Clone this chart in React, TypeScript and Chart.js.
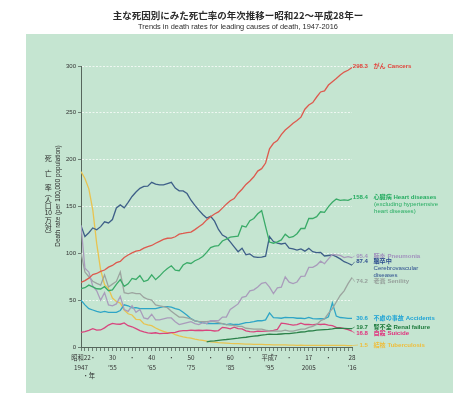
import React, { useEffect, useRef } from 'react';
import { Chart, registerables } from 'chart.js';

Chart.register(...registerables);

// ---------- DATA ----------
const years = [
  1947, 1948, 1949, 1950, 1951, 1952, 1953, 1954, 1955, 1956,
  1957, 1958, 1959, 1960, 1961, 1962, 1963, 1964, 1965, 1966,
  1967, 1968, 1969, 1970, 1971, 1972, 1973, 1974, 1975, 1976,
  1977, 1978, 1979, 1980, 1981, 1982, 1983, 1984, 1985, 1986,
  1987, 1988, 1989, 1990, 1991, 1992, 1993, 1994, 1995, 1996,
  1997, 1998, 1999, 2000, 2001, 2002, 2003, 2004, 2005, 2006,
  2007, 2008, 2009, 2010, 2011, 2012, 2013, 2014, 2015, 2016,
];

const cancers = [
  69.0, 70.9, 73.5, 77.4, 78.5, 80.8, 82.2, 85.3, 87.1, 90.0,
  91.3, 95.5, 98.2, 100.4, 102.3, 103.2, 105.5, 107.2, 108.4, 110.8,
  112.7, 114.9, 116.1, 116.3, 117.7, 120.4, 121.2, 122.2, 122.6, 125.3,
  128.4, 131.3, 135.7, 139.1, 142.0, 144.2, 148.3, 152.5, 156.1, 158.5,
  164.2, 168.4, 173.6, 177.2, 181.7, 187.8, 190.4, 196.4, 211.6, 217.5,
  220.4, 226.7, 231.6, 235.2, 238.8, 241.7, 245.4, 253.9, 258.3, 261.0,
  266.9, 272.3, 273.5, 279.7, 283.2, 286.6, 290.3, 293.5, 295.5, 298.3,
];

const heart = [
  62.2, 63.3, 66.1, 64.2, 62.2, 61.9, 64.4, 60.1, 60.9, 66.9,
  72.0, 64.8, 67.5, 73.2, 72.1, 76.2, 69.9, 71.3, 77.0, 71.9,
  75.7, 80.2, 83.8, 86.7, 82.1, 81.4, 87.5, 89.9, 89.2, 92.1,
  93.9, 96.7, 101.0, 106.2, 107.8, 108.2, 113.2, 115.1, 117.3, 117.9,
  118.4, 129.4, 128.1, 134.8, 137.2, 142.2, 145.6, 128.6, 112.0, 110.8,
  112.2, 114.3, 120.4, 116.8, 117.8, 121.0, 126.5, 126.5, 137.2, 137.2,
  139.2, 144.4, 143.7, 149.8, 154.5, 157.9, 156.5, 157.0, 156.5, 158.4,
];

const pneumonia = [
  130.0, 84.0, 80.0, 65.0, 60.0, 50.0, 58.0, 45.0, 44.0, 46.0,
  54.0, 40.0, 38.0, 44.0, 37.0, 40.0, 31.0, 30.0, 35.0, 29.0,
  29.0, 30.0, 31.0, 31.0, 27.0, 24.0, 25.0, 26.0, 27.0, 25.0,
  24.0, 26.0, 25.0, 28.0, 28.0, 28.0, 32.0, 32.0, 40.0, 43.0,
  46.0, 53.0, 54.0, 60.0, 61.0, 64.0, 68.0, 69.0, 64.0, 57.0,
  63.1, 63.8, 74.9, 69.2, 67.8, 69.4, 75.3, 75.7, 85.0, 85.0,
  87.4, 91.6, 88.9, 94.1, 98.9, 98.4, 97.8, 95.4, 96.5, 95.4,
];

const cerebro = [
  129.4, 117.9, 122.0, 127.1, 125.2, 128.5, 133.7, 132.4, 136.1, 148.4,
  151.7, 148.6, 154.5, 160.7, 165.4, 169.4, 171.4, 171.7, 175.8, 173.8,
  173.1, 173.1, 174.4, 175.8, 169.6, 166.7, 166.6, 163.8, 156.7, 151.1,
  146.1, 141.5, 137.7, 139.5, 134.3, 125.5, 119.5, 117.2, 112.2, 106.9,
  101.7, 105.5, 98.5, 99.4, 96.2, 95.6, 96.0, 96.9, 117.9, 112.6,
  111.0, 110.0, 110.8, 105.5, 104.7, 103.4, 104.7, 102.3, 105.3, 101.7,
  100.8, 100.9, 97.2, 97.7, 98.2, 96.5, 94.1, 91.1, 89.4, 87.4,
];

const senility = [
  100.5, 80.0, 75.0, 70.2, 68.0, 66.0, 77.0, 64.0, 67.1, 70.0,
  80.0, 58.0, 57.0, 58.0, 57.0, 57.0, 53.0, 51.0, 50.0, 45.0,
  44.0, 43.0, 42.0, 38.1, 35.0, 32.0, 32.0, 31.0, 30.0, 28.0,
  27.0, 27.0, 27.0, 27.6, 27.0, 26.0, 25.0, 24.0, 23.4, 23.0,
  22.0, 22.0, 20.0, 19.7, 19.0, 19.0, 19.0, 18.0, 17.3, 17.0,
  17.0, 17.0, 18.0, 16.9, 17.0, 18.0, 19.0, 19.0, 20.9, 22.0,
  24.0, 28.0, 30.0, 35.9, 41.0, 48.0, 55.0, 60.0, 67.7, 74.2,
];

const accidents = [
  50.0, 45.0, 41.0, 39.5, 38.0, 37.0, 38.0, 37.0, 37.0, 37.0,
  39.0, 45.0, 44.0, 41.7, 42.0, 41.0, 41.0, 41.0, 40.9, 41.0,
  42.0, 43.0, 43.0, 42.5, 41.0, 40.0, 37.0, 34.0, 30.3, 28.0,
  27.0, 26.0, 25.0, 25.1, 25.0, 25.0, 25.0, 24.0, 24.6, 24.0,
  24.0, 25.0, 26.0, 26.2, 27.0, 28.0, 28.0, 29.0, 36.5, 31.4,
  31.1, 30.7, 31.6, 31.4, 31.4, 30.7, 30.7, 30.3, 31.6, 30.3,
  30.1, 30.3, 30.0, 32.2, 47.1, 33.0, 31.5, 31.1, 30.6, 30.6,
];

const suicide = [
  15.7, 16.3, 17.7, 19.6, 18.0, 18.2, 20.4, 23.4, 25.2, 24.5,
  24.3, 25.7, 22.7, 21.6, 19.6, 17.5, 16.1, 15.1, 14.7, 15.2,
  14.2, 14.5, 14.5, 15.3, 15.6, 17.0, 17.4, 17.5, 18.0, 17.6,
  17.9, 17.6, 18.0, 17.7, 17.1, 17.5, 21.0, 20.4, 19.4, 21.2,
  19.6, 19.4, 17.3, 16.4, 16.1, 16.9, 16.6, 16.9, 17.2, 17.8,
  18.8, 25.4, 25.0, 24.1, 23.3, 23.8, 25.5, 24.0, 24.2, 23.7,
  24.4, 24.0, 24.4, 23.4, 22.9, 21.0, 20.7, 19.5, 18.5, 16.8,
];

// renal failure is shown from 1979 onwards
const renalStartYear = 1979;
const renal = [
  5.5, 6.2, 6.6, 7.1, 7.6, 8.0, 8.5, 9.0, 9.4, 10.0,
  10.4, 11.0, 11.5, 12.0, 12.6, 13.1, 13.8, 13.4, 13.6, 13.9,
  14.2, 14.3, 14.9, 15.4, 16.0, 16.2, 17.1, 17.3, 18.0, 18.3,
  18.6, 18.8, 19.4, 20.2, 20.0, 19.9, 19.6, 19.7,
];

const tuberculosis = [
  187.2, 179.9, 168.8, 146.4, 110.3, 82.2, 66.5, 62.4, 52.3, 48.6,
  46.9, 39.4, 35.5, 34.2, 29.6, 29.3, 24.8, 23.6, 22.8, 20.3,
  18.2, 16.8, 15.4, 15.4, 13.2, 11.9, 10.8, 10.0, 9.5, 8.5,
  7.7, 7.0, 6.3, 5.5, 5.1, 4.7, 4.5, 4.2, 3.9, 3.7,
  3.5, 3.3, 3.1, 3.0, 2.8, 2.8, 2.7, 2.6, 2.6, 2.3,
  2.2, 2.2, 2.3, 2.1, 2.0, 1.8, 1.9, 1.8, 1.8, 1.8,
  1.7, 1.8, 1.7, 1.7, 1.7, 1.7, 1.7, 1.7, 1.5, 1.5,
];

const yTicks = [0, 50, 100, 150, 200, 250, 300];

const xTickLabels: Record<number, string[] | string> = {
  1947: ['昭和22', '1947'],
  1950: '・',
  1955: ['30', '’55'],
  1960: '・',
  1965: ['40', '’65'],
  1970: '・',
  1975: ['50', '’75'],
  1980: '・',
  1985: ['60', '’85'],
  1990: '・',
  1995: ['平成7', '’95'],
  2000: '・',
  2005: ['17', '2005'],
  2010: '・',
  2016: ['28', '’16'],
};

const titleJa = '主な死因別にみた死亡率の年次推移ー昭和22〜平成28年ー';
const titleEn = 'Trends in death rates for leading causes of death, 1947-2016';
const yTitleEn = 'Death rate (per 100,000 population)';
const xUnit = '・年';

// ---------- STYLE / LAYOUT ----------
const FONT = "'Liberation Sans', Arial, 'Noto Sans CJK JP', sans-serif";
const JFONT = "'Noto Sans CJK JP', 'Liberation Sans', sans-serif";
const PANEL = '#c5e5d1';
const AXIS = '#56665c';

type Series = {
  name: string;
  values: number[];
  xs: number[];
  line: string;
  text: string;
  value: string;
  lines: string[];
  labelY: number;
};

const renalYears = years.slice(years.indexOf(renalStartYear));

const series: Series[] = [
  { name: 'がん', values: cancers, xs: years, line: '#dd5a4e', text: '#e2443c', value: '298.3', lines: ['がん Cancers'], labelY: 66.7 },
  { name: '心臓病', values: heart, xs: years, line: '#3aab68', text: '#27ad62', value: '158.4', lines: ['心臓病 Heart diseases', '(excluding hypertensive', 'heart diseases)'], labelY: 197.7 },
  { name: '肺炎', values: pneumonia, xs: years, line: '#a99cbb', text: '#a293bd', value: '95.4', lines: ['肺炎 Pneumonia'], labelY: 256 },
  { name: '脳卒中', values: cerebro, xs: years, line: '#3e5f88', text: '#2b4c8e', value: '87.4', lines: ['脳卒中', 'Cerebrovascular', 'diseases'], labelY: 261.8 },
  { name: '老衰', values: senility, xs: years, line: '#9ca49f', text: '#97a19c', value: '74.2', lines: ['老衰 Senility'], labelY: 281.7 },
  { name: '不慮の事故', values: accidents, xs: years, line: '#2ea5c6', text: '#1ea3d6', value: '30.6', lines: ['不慮の事故 Accidents'], labelY: 318.3 },
  { name: '腎不全', values: renal, xs: renalYears, line: '#2b8149', text: '#1d7a3c', value: '19.7', lines: ['腎不全 Renal failure'], labelY: 327 },
  { name: '自殺', values: suicide, xs: years, line: '#d8457e', text: '#e0307c', value: '16.8', lines: ['自殺 Suicide'], labelY: 333 },
  { name: '結核', values: tuberculosis, xs: years, line: '#e8c350', text: '#efbd3a', value: '1.5', lines: ['結核 Tuberculosis'], labelY: 345 },
];

const decorPlugin = {
  id: 'decor',
  beforeDraw(chart: any) {
    const { ctx, width, height } = chart;
    ctx.save();
    ctx.fillStyle = '#ffffff';
    ctx.fillRect(0, 0, width, height);
    ctx.fillStyle = PANEL;
    ctx.fillRect(26, 34, 427, 359);
    ctx.restore();
  },
  afterDraw(chart: any) {
    const { ctx } = chart;
    const xs = chart.scales.x;
    const ys = chart.scales.y;
    ctx.save();

    // titles
    ctx.fillStyle = '#2b2b2b';
    ctx.textAlign = 'center';
    ctx.textBaseline = 'middle';
    ctx.font = `bold 9.5px ${JFONT}`;
    ctx.fillText(titleJa, 238, 15.5);
    ctx.font = `7.4px ${FONT}`;
    ctx.fillText(titleEn, 238, 26.8);

    // vertical japanese axis title
    ctx.font = `7px ${JFONT}`;
    const vChars: [string, number][] = [
      ['死', 158], ['亡', 173], ['率', 187], ['︵', 193], ['人', 199.5],
      ['口', 206.5], ['10', 213.5], ['万', 220.5], ['対', 227.5], ['︶', 234],
    ];
    for (const [c, y] of vChars) {
      ctx.font = c === '10' ? `6.5px ${FONT}` : `7px ${JFONT}`;
      ctx.fillText(c, 48.3, y);
    }
    // english rotated axis title
    ctx.save();
    ctx.translate(58.3, 196);
    ctx.rotate(-Math.PI / 2);
    ctx.font = `6.4px ${FONT}`;
    ctx.fillText(yTitleEn, 0, 0);
    ctx.restore();

    // x unit
    ctx.font = `6.3px ${JFONT}`;
    ctx.textAlign = 'left';
    ctx.fillText(xUnit, 82.5, 376);

    // right-side labels with leader lines
    const valueRight = 368;
    const nameLeft = 373.5;
    const lineH = 6.7;
    for (const s of series) {
      ctx.font = `bold 6.1px ${FONT}`;
      const vw = ctx.measureText(s.value).width;
      const lastX = s.xs[s.xs.length - 1];
      const lastV = s.values[s.values.length - 1];
      const px = xs.getPixelForValue(lastX);
      const py = ys.getPixelForValue(lastV);
      const tx = valueRight - vw - 1.5;
      if (Math.hypot(tx - px, s.labelY - py) > 3) {
        ctx.strokeStyle = s.line;
        ctx.lineWidth = 0.7;
        ctx.beginPath();
        ctx.moveTo(px, py);
        ctx.lineTo(tx, s.labelY);
        ctx.stroke();
      }
      ctx.fillStyle = s.text;
      ctx.textAlign = 'right';
      ctx.fillText(s.value, valueRight, s.labelY);
      ctx.textAlign = 'left';
      s.lines.forEach((t, i) => {
        ctx.font = `${i === 0 ? 'bold ' : ''}6.1px ${FONT}`;
        ctx.fillText(t, nameLeft + (i > 0 && s.lines.length === 3 && s.name === '心臓病' ? 0.5 : 0), s.labelY + i * lineH);
      });
    }
    ctx.restore();
  },
};

export default function App() {
  const ref = useRef<HTMLCanvasElement | null>(null);

  useEffect(() => {
    if (!ref.current) return;
    const chart = new Chart(ref.current, {
      type: 'line',
      data: {
        datasets: series.map((s) => ({
          label: s.name,
          data: s.xs.map((x, i) => ({ x, y: s.values[i] })),
          borderColor: s.line,
          backgroundColor: s.line,
          borderWidth: 1.3,
          pointRadius: 0,
          tension: 0,
          fill: false,
        })),
      },
      options: {
        animation: false,
        responsive: false,
        devicePixelRatio: 1,
        layout: { padding: { left: 0, right: 122, top: 66, bottom: 0 } },
        plugins: {
          legend: { display: false },
          tooltip: { enabled: false },
          title: { display: false },
        },
        scales: {
          x: {
            type: 'linear',
            min: 1947,
            max: 2016,
            afterFit: (s: any) => { s.height = 57; },
            afterBuildTicks: (s: any) => { s.ticks = years.map((v) => ({ value: v })); },
            ticks: {
              autoSkip: false,
              maxRotation: 0,
              minRotation: 0,
              padding: 2.5,
              color: '#333333',
              font: { size: 6.3, family: JFONT, lineHeight: 1.45 },
              callback: (v: any) => xTickLabels[Number(v)] ?? '',
            },
            grid: {
              drawOnChartArea: false,
              tickLength: 4,
              tickColor: AXIS,
              tickWidth: 0.8,
            },
            border: { color: AXIS, width: 1 },
          },
          y: {
            type: 'linear',
            min: 0,
            max: 300,
            afterFit: (s: any) => { s.width = 81; },
            afterBuildTicks: (s: any) => { s.ticks = yTicks.map((v) => ({ value: v })); },
            ticks: {
              padding: 2,
              color: '#333333',
              font: { size: 6, family: FONT },
            },
            grid: {
              color: (c: any) => (c.tick && c.tick.value === 0 ? 'rgba(0,0,0,0)' : 'rgba(255,255,255,0.9)'),
              lineWidth: 0.8,
              tickLength: 3,
              tickColor: AXIS,
              tickWidth: 0.8,
            },
            border: { color: AXIS, width: 1, dash: [2, 1.5] },
          },
        },
      },
      plugins: [decorPlugin],
    } as any);
    return () => chart.destroy();
  }, []);

  return (
    <div style={{ position: 'absolute', left: 0, top: 0, width: 474, height: 404 }}>
      <canvas ref={ref} width={474} height={404} style={{ display: 'block', width: 474, height: 404 }} />
    </div>
  );
}
